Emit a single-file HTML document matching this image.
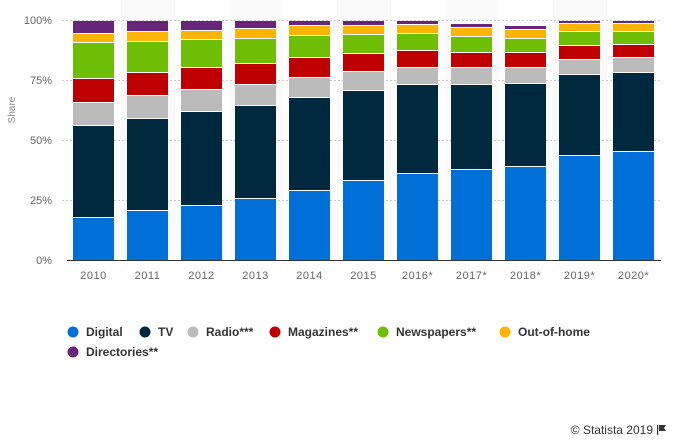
<!DOCTYPE html>
<html><head><meta charset="utf-8">
<style>
html,body{margin:0;padding:0;background:#fff;width:677px;height:443px;overflow:hidden;font-family:"Liberation Sans",sans-serif;}
</style></head>
<body>
<svg id="c" width="677" height="443" xmlns="http://www.w3.org/2000/svg" font-family="Liberation Sans, sans-serif">
<g id="shade"></g>
<g stroke="#ccc" stroke-width="1" stroke-dasharray="2,2">
<line x1="62" x2="662" y1="20.5" y2="20.5"/>
<line x1="62" x2="662" y1="80.5" y2="80.5"/>
<line x1="62" x2="662" y1="140.5" y2="140.5"/>
<line x1="62" x2="662" y1="200.5" y2="200.5"/>
</g>
<g id="bars"></g>
<line x1="67" x2="661" y1="260.5" y2="260.5" stroke="#333" stroke-width="1"/>
<g font-size="11" fill="#666" text-anchor="end">
<text x="52" y="24">100%</text>
<text x="52" y="84">75%</text>
<text x="52" y="144">50%</text>
<text x="52" y="204">25%</text>
<text x="52" y="264">0%</text>
</g>
<text transform="translate(15,110) rotate(-90)" font-size="10" fill="#888" text-anchor="middle">Share</text>
<g id="xl" font-size="11" fill="#666" text-anchor="middle" letter-spacing="0.5"></g>
<g font-size="12" font-weight="bold" fill="#333">
<circle cx="73" cy="332" r="5.5" fill="#0070d9"/><text x="86" y="336">Digital</text>
<circle cx="145" cy="332" r="5.5" fill="#00283e"/><text x="158" y="336">TV</text>
<circle cx="193" cy="332" r="5.5" fill="#bbbbbb"/><text x="206" y="336">Radio***</text>
<circle cx="275" cy="332" r="5.5" fill="#bf0000"/><text x="288" y="336">Magazines**</text>
<circle cx="383" cy="332" r="5.5" fill="#6dbe04"/><text x="396" y="336">Newspapers**</text>
<circle cx="505" cy="332" r="5.5" fill="#fbb400"/><text x="518" y="336">Out-of-home</text>
<circle cx="73" cy="352" r="5.5" fill="#68267a"/><text x="86" y="356">Directories**</text>
</g>
<text x="653" y="434" font-size="12" fill="#333" text-anchor="end">© Statista 2019</text>
<rect x="657" y="425" width="1.2" height="10" fill="#333"/>
<path d="M659 425 L666 425 L664 428 L666 431 L659 431 Z" fill="#333"/>
</svg>
<script>
var d=[[21,34,43,79,103,126,218],[21,32,42,73,96,119,211],[21,31,40,68,90,112,206],[21,29,39,64,85,106,199],[21,26,36,58,78,98,191],[21,26,35,54,72,91,181],[21,25,34,51,68,85,174],[24,28,37,53,68,85,170],[26,30,39,53,68,84,167],[21,24,32,46,60,75,156],[21,24,32,45,58,73,152]];
var col=["#68267a","#fbb400","#6dbe04","#bf0000","#bbbbbb","#00283e","#0070d9"];
var lab=["2010","2011","2012","2013","2014","2015","2016*","2017*","2018*","2019*","2020*"];
var ns="http://www.w3.org/2000/svg";
function el(p,t,a,txt){var e=document.createElementNS(ns,t);for(var k in a)e.setAttribute(k,a[k]);if(txt)e.textContent=txt;document.getElementById(p).appendChild(e);}
for(var i=0;i<11;i++){
 var x0=67+54*i;
 if(i%2==1)el("shade","rect",{x:x0,y:0,width:54,height:260,fill:"#fafafa"});
 var x=x0+6;var b=d[i].concat([260]);
 for(var j=0;j<7;j++){var h=b[j+1]-b[j]-(j<6?1:0);el("bars","rect",{x:x,y:b[j],width:41,height:h,fill:col[j]});}
 el("xl","text",{x:x+20.5,y:279},lab[i]);
}
</script>
</body></html>
